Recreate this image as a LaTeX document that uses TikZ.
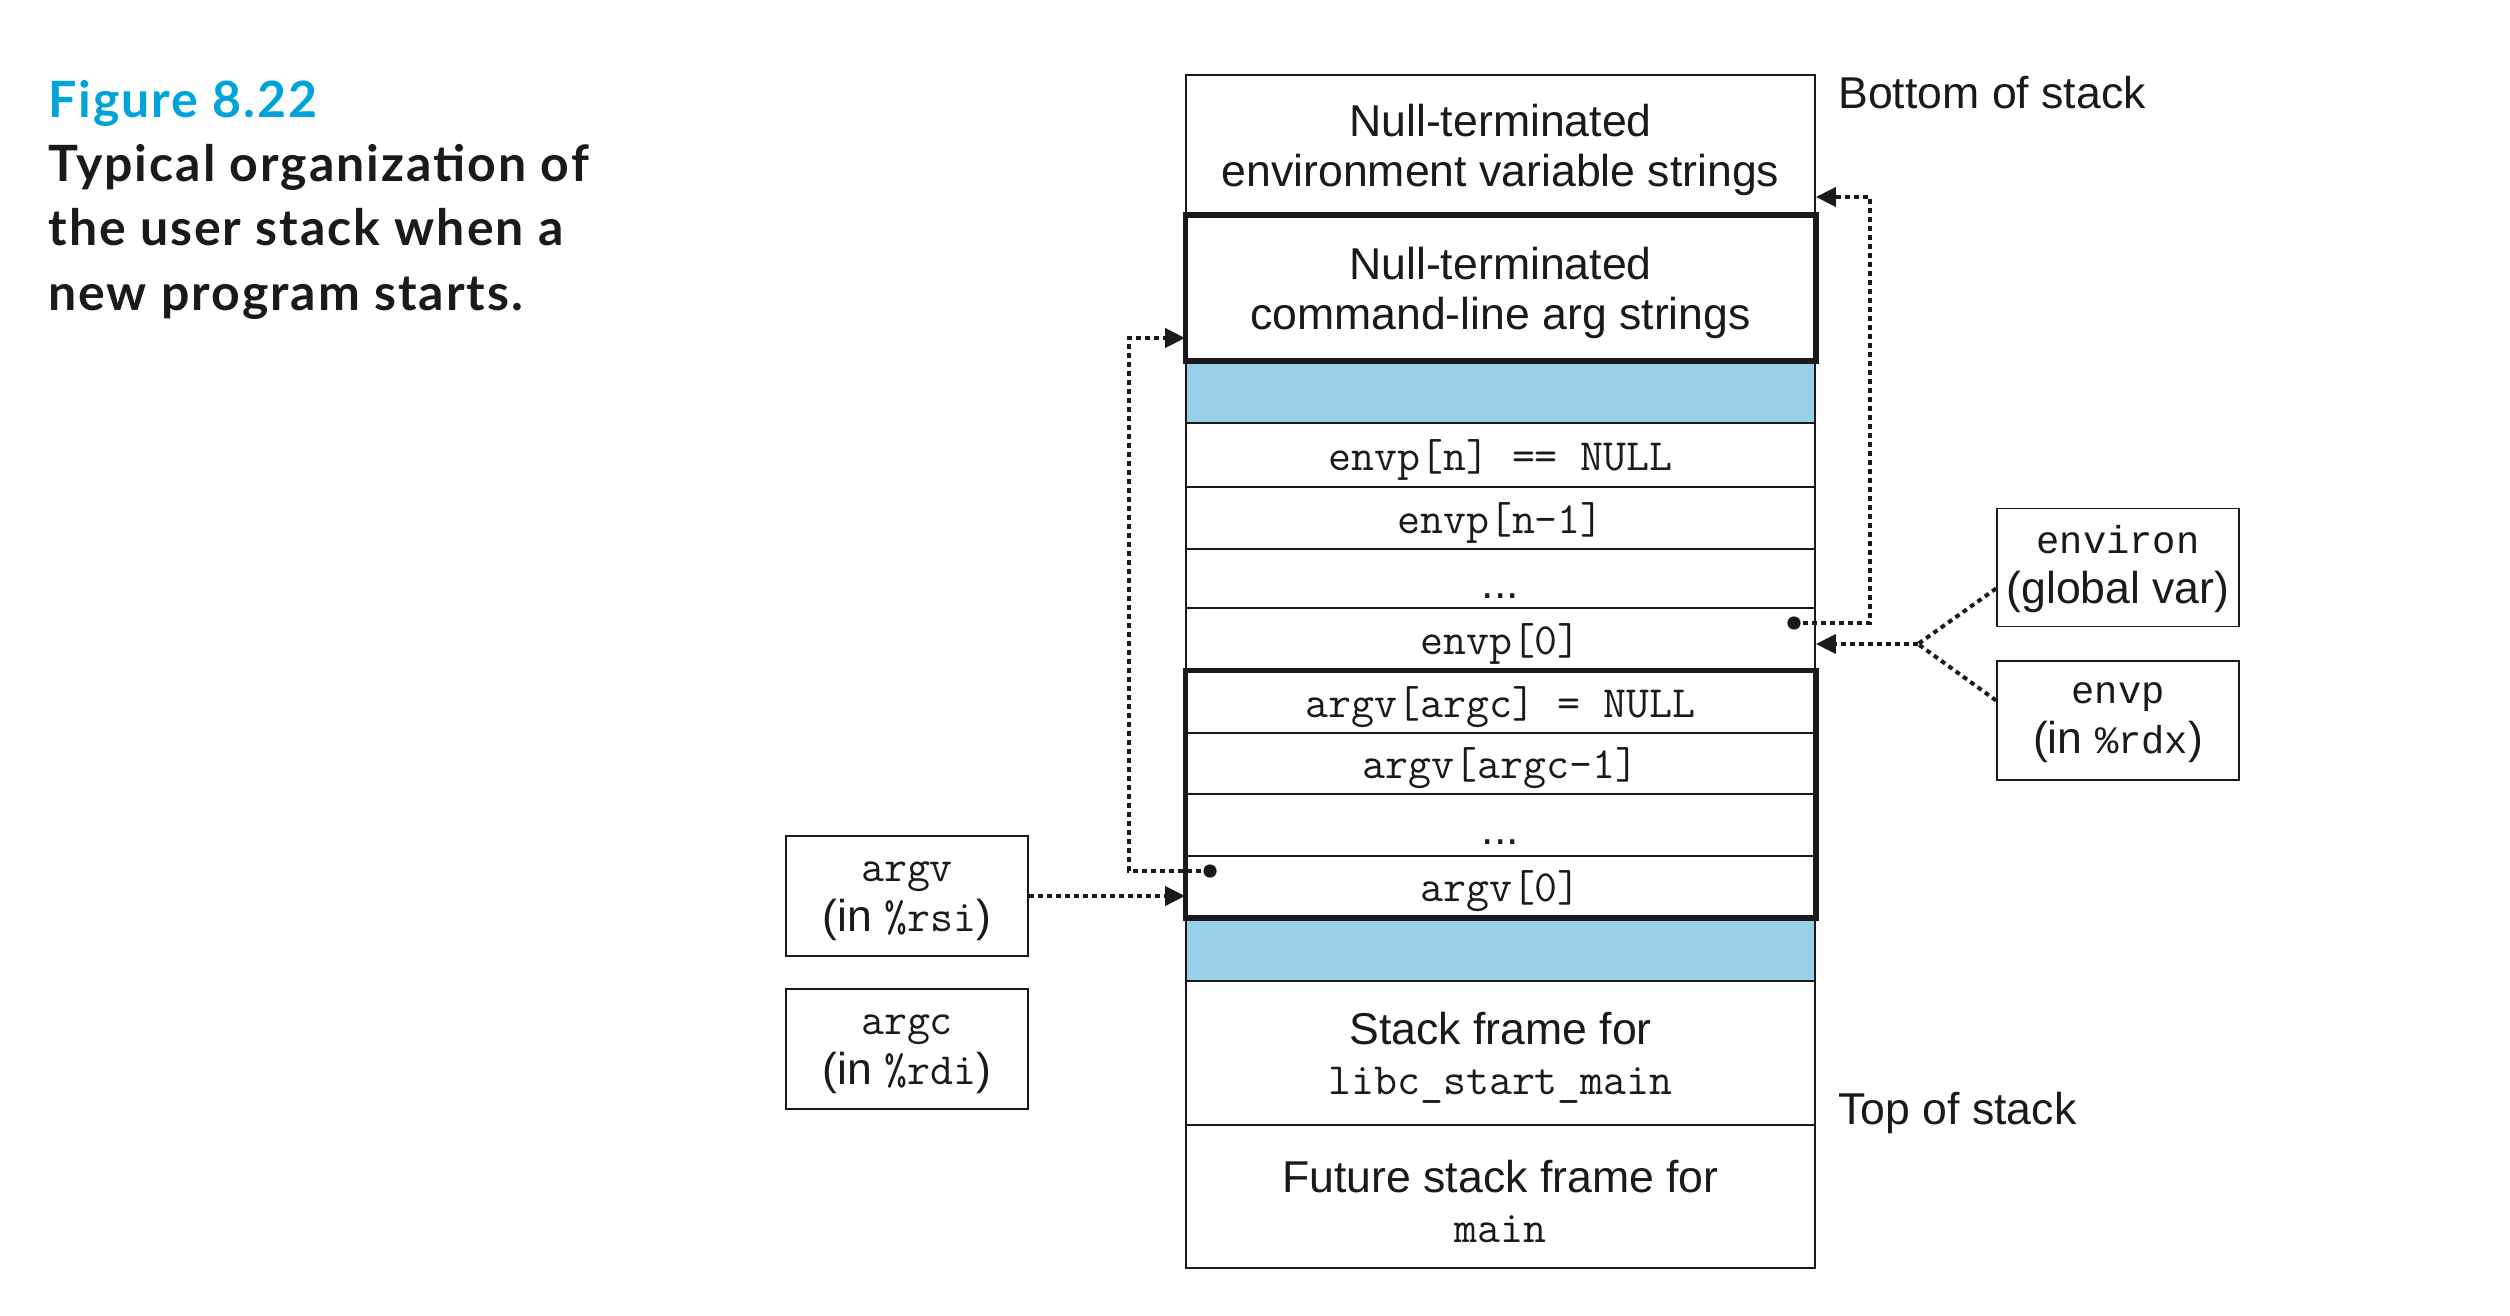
\documentclass[tikz,border=0pt]{standalone}
\usepackage{fontspec}
\setmainfont{Liberation Sans}
\newfontfamily\capfont[LetterSpace=4]{Lato}
\newfontfamily\cmono{Liberation Mono}
\usetikzlibrary{arrows.meta,calc}
\definecolor{figblue}{HTML}{00A3DA}
\definecolor{stackblue}{HTML}{97D0E7}
\definecolor{ink}{HTML}{1A1A1A}
\begin{document}
\begin{tikzpicture}[x=0.5pt,y=-0.5pt,
  txt/.style={font=\fontsize{22.3}{25}\selectfont, text=ink},
  boxtext/.style={txt, align=center, inner sep=0pt, yshift=-2.4pt},
  dotstext/.style={boxtext, text height=16pt, text depth=4pt, yshift=-1.5pt},
  cell/.style={draw=ink, line width=0.9pt, minimum width=314.5pt, inner sep=0pt},
  bluecell/.style={cell, fill=stackblue},
  regbox/.style={draw=ink, line width=0.9pt, minimum width=121pt, minimum height=59pt, inner sep=0pt},
  frame/.style={draw=ink, line width=2.6pt},
  dotline/.style={draw=ink, line width=2pt, dash pattern=on 2.4pt off 2.1pt},
  arr/.style={-{Triangle[length=10pt,width=9.5pt]}},
  captxt/.style={anchor=base west, inner sep=0pt, font=\capfont\bfseries\fontsize{25}{25}\selectfont, text=ink},
  sidetxt/.style={txt, anchor=base west, inner sep=0pt}
]
\useasboundingbox (0,0) rectangle (2510,1316);

% caption
\node[captxt, text=figblue] (fig) at (48,118) {Figure 8.22};
\node[captxt] (capa) at (48,182) {Typical organization of};
\node[captxt] (capb) at (48,246) {the user stack when a};
\node[captxt] (capc) at (48,310) {new program starts.};

% stack cells
\node[cell, minimum height=70.5pt, label={[boxtext]center:{Null-terminated\\environment variable strings}}] (envs) at (1500.5,145.5) {};
\node[cell, minimum height=72pt, label={[boxtext]center:{Null-terminated\\command-line arg strings}}] (args) at (1500.5,288) {};
\node[bluecell, minimum height=31.5pt] (blueA) at (1500.5,391.5) {};
\node[cell, minimum height=32pt, label={[boxtext]center:{\texttt{envp[n] == NULL}}}] (envpn) at (1500.5,455) {};
\node[cell, minimum height=31pt, label={[boxtext]center:{\texttt{envp[n-1]}}}] (envpn1) at (1500.5,518) {};
\node[cell, minimum height=29.5pt, label={[dotstext]center:{...}}] (envdots) at (1500.5,578.5) {};
\node[cell, minimum height=31.5pt, label={[boxtext]center:{\texttt{envp[0]}}}] (envp0) at (1500.5,639.5) {};
\node[cell, minimum height=31pt, label={[boxtext]center:{\texttt{argv[argc] = NULL}}}] (argvc) at (1500.5,702) {};
\node[cell, minimum height=30.5pt, label={[boxtext]center:{\texttt{argv[argc-1]}}}] (argvc1) at (1500.5,763.5) {};
\node[cell, minimum height=31pt, label={[dotstext]center:{...}}] (argdots) at (1500.5,825) {};
\node[cell, minimum height=30.5pt, label={[boxtext]center:{\texttt{argv[0]}}}] (argv0) at (1500.5,886.5) {};
\node[bluecell, minimum height=32pt] (blueB) at (1500.5,949) {};
\node[cell, minimum height=72pt, label={[boxtext]center:{Stack frame for\\\texttt{libc\_start\_main}}}] (libc) at (1500.5,1053) {};
\node[cell, minimum height=71.5pt, label={[boxtext]center:{Future stack frame for\\\texttt{main}}}] (mainf) at (1500.5,1196.5) {};

% thick frames
\draw[frame] (args.north west) rectangle (args.south east);
\draw[frame] (argvc.north west) rectangle (argv0.south east);

% side labels
\node[sidetxt] (bot) at (1838,109) {Bottom of stack};
\node[sidetxt] (top) at (1838,1124) {Top of stack};

% register boxes
\node[regbox, label={[boxtext, yshift=1.5pt]center:{{\cmono\fontsize{19.4}{25}\selectfont environ}\\(global var)}}] (environreg) at (2118,567.5) {};
\node[regbox, minimum height=59.5pt, label={[boxtext, yshift=1.2pt]center:{{\cmono\fontsize{19.4}{25}\selectfont envp}\\(in {\cmono\fontsize{19.4}{25}\selectfont\%rdx})}}] (envpreg) at (2118,720.5) {};
\node[regbox, minimum height=60pt, label={[boxtext]center:{\texttt{argv}\\(in \texttt{\%rsi})}}] (argvreg) at (907,896) {};
\node[regbox, minimum height=60pt, label={[boxtext]center:{\texttt{argc}\\(in \texttt{\%rdi})}}] (argcreg) at (907,1049) {};

% pointers
\coordinate (envdot) at (1794,623);
\coordinate (argdot) at (1210,871);
\coordinate (jn) at (1918,644);

\draw[dotline, arr] (envdot) -| (1870,197) -- (envs.east |- 0,197);
\draw[dotline, arr] (argdot) -| (1129,338) -- (args.west |- 0,338);
\draw[dotline] ($(environreg.west)+(0,21)$) -- (jn);
\draw[dotline] ($(envpreg.west)+(0,-20)$) -- (jn);
\draw[dotline, arr] (jn) -- (envp0.east |- jn);
\draw[dotline, arr] (argvreg.east) -- (argv0.west |- argvreg.east);
\fill[ink] (envdot) circle (3.3pt);
\fill[ink] (argdot) circle (3.3pt);
\end{tikzpicture}
\end{document}
